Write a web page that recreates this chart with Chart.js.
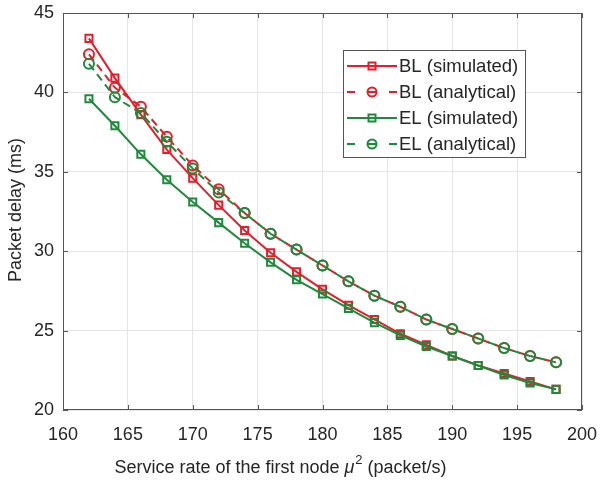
<!DOCTYPE html>
<html>
<head>
<meta charset="utf-8">
<script src="https://cdn.jsdelivr.net/npm/chart.js@4"></script>
<style>
  html, body { margin: 0; padding: 0; background: #fff; }
  #wrap { width: 600px; height: 482px; }
</style>
</head>
<body>
<div id="wrap"><canvas id="chartCanvas" width="600" height="482"></canvas></div>
<script>
// service rate of the first node (packet/s)
const rates = [162, 164, 166, 168, 170, 172, 174, 176, 178, 180, 182, 184, 186, 188, 190, 192, 194, 196, 198];

// packet delay (ms)
const blSimulated = [43.4, 40.9, 38.6, 36.4, 34.6, 32.9, 31.3, 29.9, 28.7, 27.6, 26.6, 25.7, 24.8, 24.1, 23.4, 22.8, 22.3, 21.8, 21.3];
const blAnalytical = [42.4, 40.3, 39.1, 37.2, 35.4, 33.9, 32.4, 31.1, 30.1, 29.1, 28.1, 27.2, 26.5, 25.7, 25.1, 24.5, 23.9, 23.4, 23.0];
const elSimulated = [39.6, 37.9, 36.1, 34.5, 33.1, 31.8, 30.5, 29.3, 28.2, 27.3, 26.4, 25.5, 24.7, 24.0, 23.4, 22.8, 22.2, 21.7, 21.3];
const elAnalytical = [41.8, 39.7, 38.7, 36.9, 35.2, 33.7, 32.4, 31.1, 30.1, 29.1, 28.1, 27.2, 26.5, 25.7, 25.1, 24.5, 23.9, 23.4, 23.0];

const xTicks = [160, 165, 170, 175, 180, 185, 190, 195, 200];
const yTicks = [20, 25, 30, 35, 40, 45];

const RED = 'rgb(228, 30, 42)';
const GREEN = 'rgb(30, 138, 60)';
const TEXT = '#262626';
const FONT = 'Liberation Sans, Arial, sans-serif';

function pts(ys) {
    return rates.map((x, i) => ({ x: x, y: ys[i] }));
}

const series = [
    { label: 'BL (simulated)', data: blSimulated, color: RED, dash: [], style: 'rect', order: 4 },
    { label: 'BL (analytical)', data: blAnalytical, color: RED, dash: [8, 5], style: 'circle', order: 3 },
    { label: 'EL (simulated)', data: elSimulated, color: GREEN, dash: [], style: 'rect', order: 2 },
    { label: 'EL (analytical)', data: elAnalytical, color: GREEN, dash: [8, 5], style: 'circle', order: 1 }
];

// box, inner ticks, titles and legend like the matlab figure
const decorations = {
    id: 'decorations',
    afterDraw(chart) {
        const ctx = chart.ctx;
        const a = chart.chartArea;
        const xs = chart.scales.x, ys = chart.scales.y;
        ctx.save();
        ctx.strokeStyle = '#555';
        ctx.lineWidth = 1;
        ctx.strokeRect(Math.round(a.left) + 0.5, Math.round(a.top) + 0.5,
            Math.round(a.right - a.left) - 1, Math.round(a.bottom - a.top) - 1);
        ctx.beginPath();
        xTicks.forEach(v => {
            const px = Math.round(xs.getPixelForValue(v)) + 0.5;
            ctx.moveTo(px, a.bottom); ctx.lineTo(px, a.bottom - 5);
            ctx.moveTo(px, a.top); ctx.lineTo(px, a.top + 5);
        });
        yTicks.forEach(v => {
            const py = Math.round(ys.getPixelForValue(v)) + 0.5;
            ctx.moveTo(a.left, py); ctx.lineTo(a.left + 5, py);
            ctx.moveTo(a.right, py); ctx.lineTo(a.right - 5, py);
        });
        ctx.stroke();

        // axis titles
        ctx.fillStyle = TEXT;
        ctx.font = '18px ' + FONT;
        ctx.textBaseline = 'alphabetic';
        const p1 = 'Service rate of the first node ';
        const mu = '\u03bc';
        const sup = '2';
        const p2 = ' (packet/s)';
        const w1 = ctx.measureText(p1).width;
        ctx.font = 'italic 18px ' + FONT;
        const wMu = ctx.measureText(mu).width;
        ctx.font = '13px ' + FONT;
        const wSup = ctx.measureText(sup).width;
        ctx.font = '18px ' + FONT;
        const w2 = ctx.measureText(p2).width;
        let tx = 280 - (w1 + wMu + wSup + w2) / 2;
        const ty = 473;
        ctx.textAlign = 'left';
        ctx.fillText(p1, tx, ty); tx += w1;
        ctx.font = 'italic 18px ' + FONT;
        ctx.fillText(mu, tx, ty); tx += wMu + 1;
        ctx.font = '13px ' + FONT;
        ctx.fillText(sup, tx, ty - 9); tx += wSup;
        ctx.font = '18px ' + FONT;
        ctx.fillText(p2, tx, ty);

        ctx.save();
        ctx.translate(21, 210);
        ctx.rotate(-Math.PI / 2);
        ctx.textAlign = 'center';
        ctx.fillText('Packet delay (ms)', 0, 0);
        ctx.restore();

        // legend
        const lx = 343, ly = 50, lw = 182, lh = 107;
        ctx.fillStyle = '#fff';
        ctx.fillRect(lx, ly, lw, lh);
        ctx.strokeStyle = '#555';
        ctx.strokeRect(lx + 0.5, ly + 0.5, lw, lh);
        ctx.font = '18.5px ' + FONT;
        ctx.textAlign = 'left';
        ctx.textBaseline = 'middle';
        series.forEach((s, i) => {
            const cy = 66 + i * 26;
            const x0 = 347, x1 = 397, cx = 372;
            ctx.strokeStyle = s.color;
            ctx.lineWidth = 2;
            ctx.beginPath();
            if (s.dash.length) {
                ctx.moveTo(x0, cy); ctx.lineTo(x0 + 8, cy);
                ctx.moveTo(x1 - 8, cy); ctx.lineTo(x1, cy);
                ctx.moveTo(cx - 4, cy); ctx.lineTo(cx + 4, cy);
            } else {
                ctx.moveTo(x0, cy); ctx.lineTo(x1, cy);
            }
            ctx.stroke();
            ctx.beginPath();
            if (s.style === 'rect') {
                ctx.rect(cx - 3.5, cy - 3.5, 7, 7);
            } else {
                ctx.arc(cx, cy, 4.5, 0, Math.PI * 2);
            }
            ctx.stroke();
            ctx.fillStyle = TEXT;
            ctx.fillText(s.label, 399, cy + 1);
        });
        ctx.restore();
    }
};

const ctx = document.getElementById('chartCanvas').getContext('2d');
const chart = new Chart(ctx, {
    type: 'line',
    data: {
        datasets: series.map(s => ({
            label: s.label,
            data: pts(s.data),
            borderColor: s.color,
            backgroundColor: 'rgba(0,0,0,0)',
            borderWidth: 2,
            borderDash: s.dash,
            pointStyle: s.style,
            pointRadius: 5,
            pointBorderWidth: 2,
            pointBorderColor: s.color,
            pointBackgroundColor: 'rgba(0,0,0,0)',
            tension: 0,
            fill: false,
            order: s.order
        }))
    },
    options: {
        responsive: false,
        animation: false,
        events: [],
        layout: { padding: 0 },
        plugins: {
            legend: { display: false },
            tooltip: { enabled: false }
        },
        scales: {
            x: {
                type: 'linear',
                min: 160,
                max: 200,
                afterBuildTicks(scale) { scale.ticks = xTicks.map(v => ({ value: v })); },
                afterFit(scale) {
                    scale.height = 72;
                    scale.paddingLeft = 0;
                    scale.paddingRight = 18;
                },
                grid: { color: '#e5e5e5', drawTicks: false },
                border: { display: false },
                ticks: { color: TEXT, font: { family: FONT, size: 18 }, padding: 14, maxRotation: 0 }
            },
            y: {
                type: 'linear',
                min: 20,
                max: 45,
                afterBuildTicks(scale) { scale.ticks = yTicks.map(v => ({ value: v })); },
                afterFit(scale) {
                    scale.width = 63;
                    scale.paddingTop = 13;
                    scale.paddingBottom = 0;
                },
                grid: { color: '#e5e5e5', drawTicks: false },
                border: { display: false },
                ticks: { color: TEXT, font: { family: FONT, size: 18 }, padding: 9 }
            }
        }
    },
    plugins: [decorations]
});
</script>
</body>
</html>
